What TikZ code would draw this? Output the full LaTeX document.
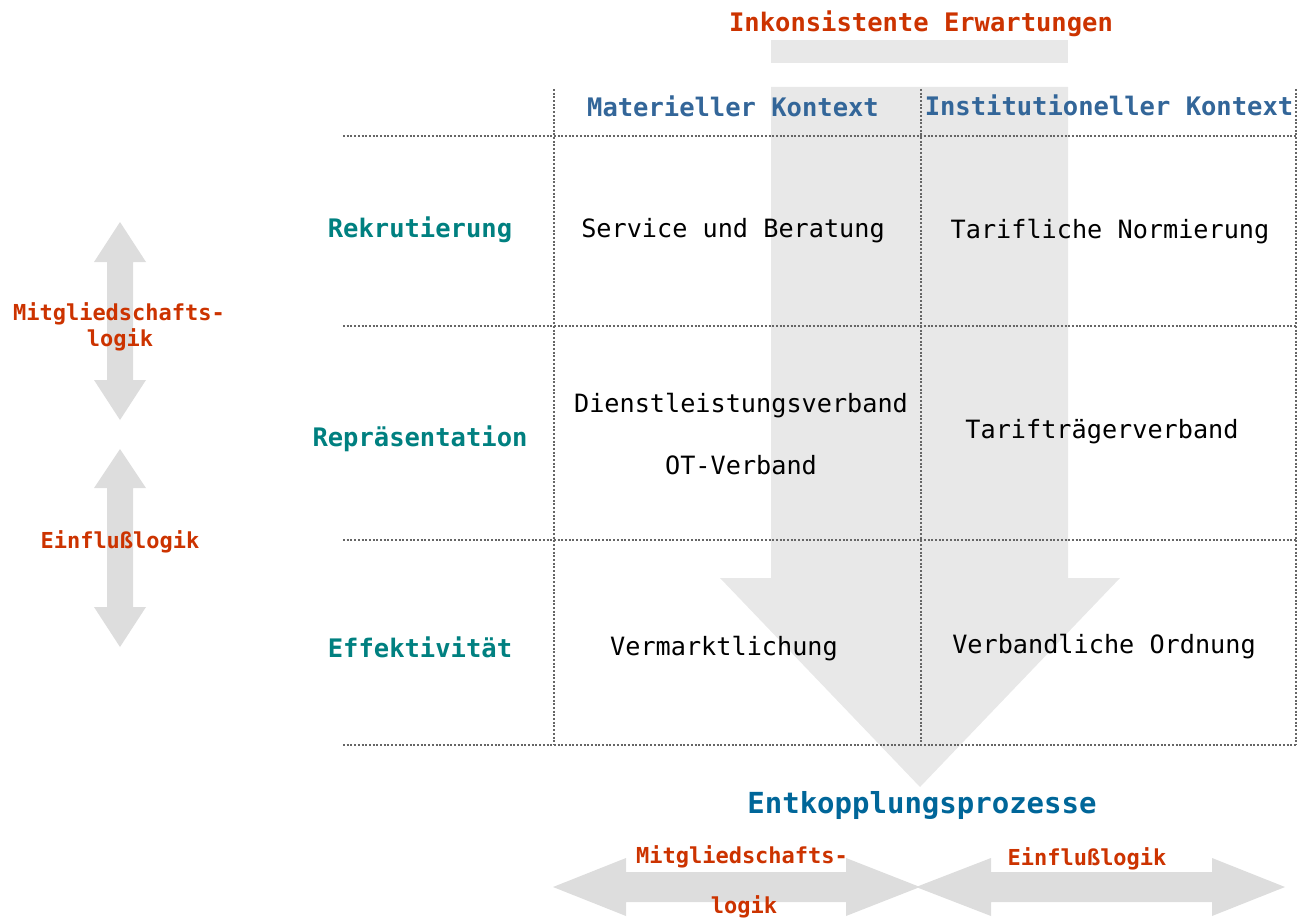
\documentclass[tikz,border=0pt]{standalone}
\usepackage{fontspec}
\setmainfont{DejaVu Sans Mono}
\definecolor{redtxt}{RGB}{204,51,0}
\definecolor{colhead}{RGB}{51,102,153}
\definecolor{rowhead}{RGB}{0,128,128}
\definecolor{bluetxt}{RGB}{0,102,153}
\definecolor{bigarrow}{RGB}{232,232,232}
\definecolor{sidearrow}{RGB}{221,221,221}
\definecolor{gridline}{RGB}{102,102,102}
\tikzset{
  grid line/.style={draw=gridline, line width=1.8pt, dash pattern=on 2pt off 1.7pt},
  redlab/.style={anchor=base, inner sep=0pt, text=redtxt, font=\bfseries\fontsize{22}{26}\selectfont},
  toplab/.style={anchor=base, inner sep=0pt, text=redtxt, font=\bfseries\fontsize{25.5}{30}\selectfont},
  colhd/.style={anchor=base, inner sep=0pt, text=colhead, font=\bfseries\fontsize{25.5}{30}\selectfont},
  rowhd/.style={anchor=base, inner sep=0pt, text=rowhead, font=\bfseries\fontsize{25.5}{30}\selectfont},
  cell/.style={anchor=base, inner sep=0pt, text=black, font=\fontsize{25.2}{30}\selectfont},
  bottomhd/.style={anchor=base, inner sep=0pt, text=bluetxt, font=\bfseries\fontsize{29}{34}\selectfont},
}
\begin{document}
\begin{tikzpicture}[x=1pt,y=-1pt]
\useasboundingbox (0,0) rectangle (1308,920);
% big down arrow
\fill[bigarrow] (771,40) rectangle (1068,63);
\fill[bigarrow] (771,87) -- (1068,87) -- (1068,578) -- (1120,578) -- (920,787) -- (720,578) -- (771,578) -- cycle;
% left vertical double arrows
\fill[sidearrow] (120,222) -- (146,262) -- (133,262) -- (133,380) -- (146,380) -- (120,420) -- (94,380) -- (107,380) -- (107,262) -- (94,262) -- cycle;
\fill[sidearrow] (120,449) -- (146,488) -- (133,488) -- (133,607) -- (146,607) -- (120,647) -- (94,607) -- (107,607) -- (107,488) -- (94,488) -- cycle;
% bottom horizontal double arrows
\fill[sidearrow] (553,887) -- (626,858) -- (626,872) -- (846,872) -- (846,858) -- (920,887) -- (846,916) -- (846,902) -- (626,902) -- (626,916) -- cycle;
\fill[sidearrow] (916,887) -- (991,858) -- (991,872) -- (1212,872) -- (1212,858) -- (1285,887) -- (1212,916) -- (1212,902) -- (991,902) -- (991,916) -- cycle;
% grid
\draw[grid line] (343,136) -- (1297,136);
\draw[grid line] (343,326) -- (1297,326);
\draw[grid line] (343,540) -- (1297,540);
\draw[grid line] (343,745) -- (1297,745);
\draw[grid line] (554,89) -- (554,745);
\draw[grid line] (921,89) -- (921,745);
\draw[grid line] (1296,89) -- (1296,745);
% texts
\node[toplab] (erw) at (921,32) {Inkonsistente Erwartungen};
\node[colhd] (mat) at (733,117) {Materieller Kontext};
\node[colhd] (inst) at (1109,116) {Institutioneller Kontext};
\node[rowhd] (rek) at (420,237) {Rekrutierung};
\node[rowhd] (rep) at (420,446) {Repräsentation};
\node[rowhd] (eff) at (420,657) {Effektivität};
\node[cell] (serv) at (733,237) {Service und Beratung};
\node[cell] (tarn) at (1110,238) {Tarifliche Normierung};
\node[cell] (dienst) at (741,412) {Dienstleistungsverband};
\node[cell] (ot) at (741,474) {OT-Verband};
\node[cell] (tartr) at (1102,438) {Tarifträgerverband};
\node[cell] (verm) at (724,655) {Vermarktlichung};
\node[cell] (verb) at (1104,653) {Verbandliche Ordnung};
\node[bottomhd] (ent) at (922,813) {Entkopplungsprozesse};
\node[redlab] (lmit) at (119,320) {Mitgliedschafts-};
\node[redlab] (llog) at (120,346) {logik};
\node[redlab] (lein) at (120,548) {Einflußlogik};
\node[redlab] (bmit) at (742,863) {Mitgliedschafts-};
\node[redlab] (blog) at (744,913) {logik};
\node[redlab] (bein) at (1087,865) {Einflußlogik};
\end{tikzpicture}
\end{document}
